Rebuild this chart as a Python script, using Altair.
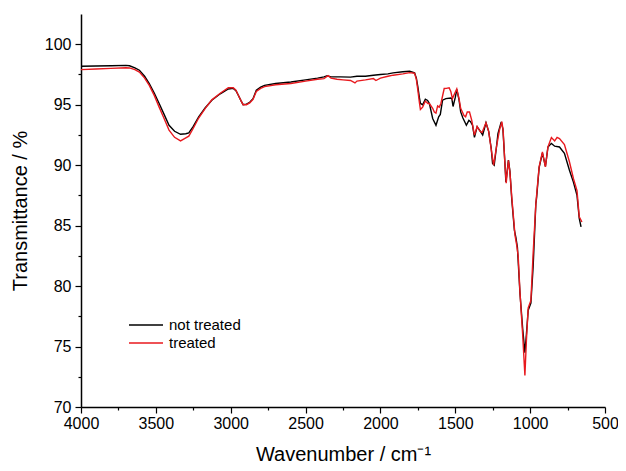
import altair as alt
import pandas as pd

# not treated (black)
wn_nt = [4000, 3900, 3800, 3700, 3676, 3640, 3610, 3575, 3544, 3510, 3478, 3445, 3412, 3375,
         3335, 3300, 3280, 3250, 3214, 3170, 3126, 3070, 3016, 2983, 2965, 2950, 2930, 2917,
         2895, 2873, 2851, 2829, 2800, 2774, 2700, 2598, 2500, 2420, 2377, 2355, 2330, 2268,
         2200, 2157, 2100, 2047, 2000, 1950, 1915, 1850, 1805, 1772, 1760, 1750, 1740, 1733,
         1718, 1700, 1685, 1673, 1651, 1629, 1611, 1600, 1585, 1563, 1530, 1523, 1515, 1500,
         1490, 1475, 1464, 1449, 1426, 1409, 1398, 1385, 1372, 1354, 1332, 1317, 1295, 1277,
         1260, 1251, 1240, 1225, 1215, 1193, 1182, 1170, 1162, 1145, 1135, 1123, 1105, 1095,
         1085, 1068, 1050, 1035, 1025, 1013, 995, 980, 962, 957, 940, 918, 898, 881, 858, 836,
         804, 771, 738, 711, 687, 672, 660]
t_nt = [98.18, 98.2, 98.22, 98.25, 98.22, 98.05, 97.85, 97.35, 96.75, 95.95, 95.1, 94.2, 93.3, 92.8,
        92.55, 92.6, 92.67, 93.2, 94.0, 94.75, 95.37, 95.9, 96.3, 96.35, 96.15, 95.8, 95.3, 95.0,
        95.05, 95.2, 95.5, 96.2, 96.45, 96.6, 96.75, 96.88, 97.05, 97.2, 97.3, 97.4, 97.3, 97.3,
        97.28, 97.35, 97.35, 97.44, 97.5, 97.55, 97.63, 97.72, 97.77, 97.63, 97.2, 96.47, 95.6, 95.1,
        95.0, 95.45, 95.35, 95.1, 93.86, 93.3, 94.0, 94.2, 95.37, 95.5, 95.55, 95.5, 94.85, 95.6,
        96.26, 95.4, 94.4, 93.9, 93.3, 93.7, 93.6, 93.3, 92.3, 93.17, 92.8, 92.5, 93.5, 92.8,
        91.4, 90.14, 90.0, 91.5, 92.6, 93.58, 93.0, 90.5, 88.6, 90.41, 89.5, 87.2, 84.6, 84.0,
        83.2, 79.4, 76.5, 74.5, 76.0, 78.0, 78.6, 81.6, 86.8, 87.3, 89.8, 91.0, 89.9, 91.5, 91.8, 91.57,
        91.5, 90.97, 89.6, 88.6, 87.5, 85.6, 84.9]

# treated (red)
wn_tr = [4000, 3900, 3800, 3700, 3676, 3640, 3610, 3575, 3544, 3510, 3478, 3445, 3412, 3375,
         3335, 3300, 3280, 3250, 3214, 3170, 3126, 3070, 3016, 2983, 2965, 2950, 2930, 2917,
         2895, 2873, 2851, 2829, 2800, 2774, 2700, 2598, 2500, 2420, 2377, 2350, 2330, 2290,
         2250, 2200, 2170, 2157, 2100, 2047, 2030, 2000, 1950, 1915, 1850, 1805, 1772, 1760,
         1750, 1740, 1733, 1718, 1700, 1683, 1673, 1651, 1640, 1629, 1618, 1607, 1596, 1574,
         1560, 1541, 1530, 1519, 1505, 1490, 1475, 1464, 1442, 1431, 1420, 1405, 1390, 1372,
         1354, 1335, 1321, 1295, 1277, 1260, 1244, 1225, 1205, 1189, 1180, 1170, 1160, 1145,
         1135, 1123, 1101, 1090, 1080, 1068, 1050, 1035, 1025, 1013, 995, 980, 962, 940, 918,
         898, 881, 858, 836, 820, 804, 771, 738, 711, 687, 672, 654]
t_tr = [97.9, 97.95, 98.0, 98.05, 98.04, 97.9, 97.7, 97.2, 96.6, 95.75, 94.8, 93.85, 92.9, 92.3,
        92.0, 92.25, 92.4, 93.05, 93.9, 94.7, 95.4, 95.95, 96.4, 96.4, 96.2, 95.8, 95.3, 95.0,
        95.0, 95.15, 95.45, 96.1, 96.35, 96.5, 96.65, 96.75, 96.95, 97.1, 97.16, 97.4, 97.2, 97.1,
        97.05, 97.0, 96.8, 96.95, 97.05, 97.16, 97.0, 97.2, 97.35, 97.44, 97.55, 97.65, 97.6, 97.1,
        96.2, 95.2, 94.6, 94.8, 95.3, 95.1, 95.1, 94.7, 94.4, 94.3, 94.9, 94.8, 95.1, 96.34,
        96.35, 96.4, 96.1, 95.5, 95.9, 96.3, 95.5, 94.7, 94.1, 94.0, 94.4, 94.4, 93.7, 92.48,
        93.2, 92.8, 92.7, 93.5, 92.8, 91.3, 90.0, 91.5, 92.9, 93.6, 92.8, 90.4, 88.5, 90.4,
        89.4, 87.4, 84.2, 83.4, 82.5, 79.5, 76.0, 72.6, 75.5, 78.2, 78.8, 82.7, 86.8, 89.86, 91.1,
        89.86, 91.5, 92.29, 92.0, 92.3, 92.2, 91.7, 90.3, 88.9, 87.9, 85.73, 85.3]

series_names = ["not treated", "treated"]
series_colors = ["#000000", "#e8191e"]

df = pd.concat([
    pd.DataFrame({"wn": wn_nt, "T": t_nt, "sample": series_names[0], "idx": range(len(wn_nt))}),
    pd.DataFrame({"wn": wn_tr, "T": t_tr, "sample": series_names[1], "idx": range(len(wn_tr))}),
])

x_ticks = list(range(500, 4001, 250))
y_ticks = [70 + 2.5 * i for i in range(13)]

FONT = "Liberation Sans"

chart = alt.Chart(df).mark_line(strokeWidth=1.4, clip=True).encode(
    x=alt.X("wn:Q",
            scale=alt.Scale(domain=[4000, 500], nice=False, zero=False),
            axis=alt.Axis(values=x_ticks,
                          labelExpr="datum.value % 500 === 0 ? datum.label : ''",
                          tickSize={"condition": {"test": "datum.value % 500 === 0", "value": 6}, "value": 3},
                          title="Wavenumber / cm⁻¹", grid=False, format="d",
                          labelFlush=False, labelOverlap=False,
                          labelFontSize=16, titleFontSize=20, labelPadding=2,
                          titlePadding=13, titleFontWeight="normal")),
    y=alt.Y("T:Q",
            scale=alt.Scale(domain=[70, 102.5], nice=False, zero=False),
            axis=alt.Axis(values=y_ticks,
                          labelExpr="datum.value % 5 === 0 ? datum.label : ''",
                          tickSize={"condition": {"test": "datum.value % 5 === 0", "value": 6}, "value": 3},
                          title="Transmittance / %", grid=False, format="d",
                          labelFlush=False, labelOverlap=False,
                          labelFontSize=16, titleFontSize=20, labelPadding=4,
                          titlePadding=14, titleFontWeight="normal")),
    color=alt.Color("sample:N",
                    scale=alt.Scale(domain=series_names, range=series_colors),
                    legend=alt.Legend(title=None, orient="none", legendX=55.5, legendY=301.5,
                                      symbolType="M-2,0H2", symbolSize=289, symbolStrokeWidth=1.5,
                                      labelFontSize=15, labelOffset=13.5, rowPadding=0)),
    order="idx:Q",
).properties(
    width=524, height=393,
    autosize=alt.AutoSizeParams(type="none"),
    padding={"left": 73, "top": 6, "right": 13, "bottom": 56},
).configure_view(
    stroke=None
).configure_axis(
    domainColor="#000000", tickColor="#000000", labelColor="#000000", titleColor="#000000",
    domainWidth=1.5, tickWidth=1.2, labelFont=FONT, titleFont=FONT
).configure_legend(
    labelFont=FONT, labelColor="#000000"
)

chart.save("out.html", embed_options={"renderer": "svg", "actions": False})
